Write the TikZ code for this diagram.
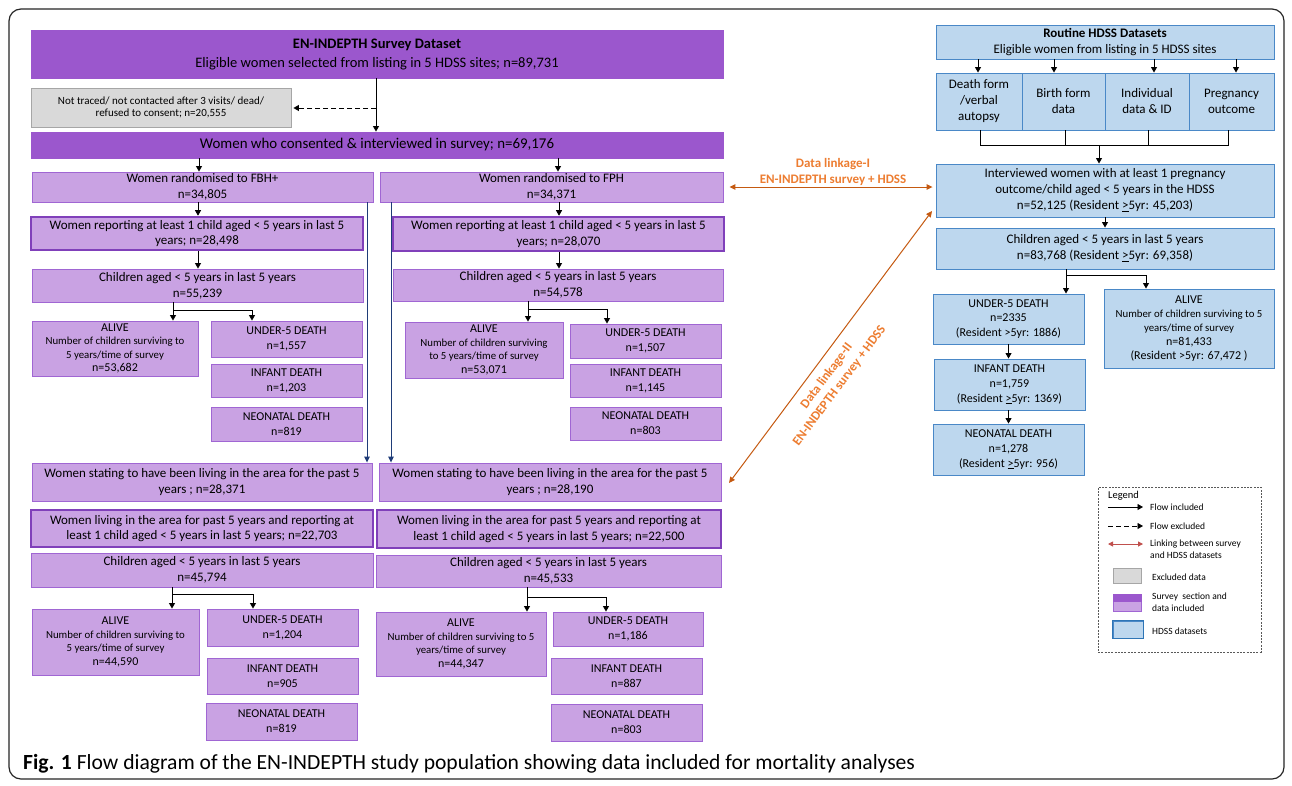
\documentclass[tikz,border=0pt]{standalone}
\usepackage{fontspec}
\setmainfont{Carlito}
\usetikzlibrary{arrows.meta,calc}
\definecolor{dpur}{HTML}{9B57CD}
\definecolor{dpurb}{HTML}{8040BA}
\definecolor{lpur}{HTML}{C9A2E3}
\definecolor{lpurb}{HTML}{A066D3}
\definecolor{gfill}{HTML}{D9D9D9}
\definecolor{gbord}{HTML}{A6A6A6}
\definecolor{bfill}{HTML}{BDD7EE}
\definecolor{bbord}{HTML}{4A88C7}
\definecolor{bbordk}{HTML}{2E75B6}
\definecolor{navy}{HTML}{1F3C78}
\definecolor{otext}{HTML}{ED7D31}
\definecolor{oline}{HTML}{C55A11}
\definecolor{lred}{HTML}{C0504D}
\newcommand\fT{\fontsize{14.5}{19}\selectfont}
\newcommand\fC{\fontsize{14.9}{18}\selectfont}
\newcommand\fM{\fontsize{13}{15.7}\selectfont}
\newcommand\fH{\fontsize{13}{16}\selectfont}
\newcommand\fS{\fontsize{10.8}{13.4}\selectfont}
\newcommand\fD{\fontsize{12}{15}\selectfont}
\newcommand\fX{\fontsize{11}{12.5}\selectfont}
\newcommand\fL{\fontsize{9.5}{12}\selectfont}
\newcommand\mybox[7]{\node[#1, minimum width={(#4)-(#2)}, minimum height={(#5)-(#3)}] (#6) at ({((#2)+(#4))/2},{((#3)+(#5))/2}) {#7};}
\tikzset{
  box/.style={draw, inner sep=0pt, align=center, line width=0.9pt, font=\fM},
  dp/.style={box, fill=dpur, draw=dpur, font=\fT},
  lp/.style={box, fill=lpur, draw=lpurb},
  tk/.style={box, fill=lpur, draw=dpurb, line width=2.6pt},
  gy/.style={box, fill=gfill, draw=gbord, font=\fX},
  bl/.style={box, fill=bfill, draw=bbord, font=\fH},
  hd/.style={bl, font=\fontsize{12}{14.7}\selectfont},
  ha/.style={bl, font=\fontsize{12}{14}\selectfont},
  al/.style={lp, font=\fontsize{12}{13.4}\selectfont},
  dt/.style={lp, font=\fD},
  arr/.style={-{Triangle[length=5.5pt,width=6pt]}, line width=0.9pt, black},
  ln/.style={line width=0.9pt, black},
  narr/.style={-{Triangle[length=6pt,width=5.5pt]}, line width=1pt, navy},
  link/.style={{Triangle[length=6pt,width=5.5pt]}-{Triangle[length=6pt,width=5.5pt]}, line width=1pt, oline},
  redlink/.style={{Triangle[length=5pt,width=5pt]}-{Triangle[length=5pt,width=5pt]}, line width=1pt, lred},
  ltxt/.style={text=otext, font=\fontsize{13}{16}\selectfont\bfseries, align=center, inner sep=0pt},
  lg/.style={font=\fL, anchor=west, align=left, inner sep=0pt},
  lgbox/.style={draw=black!65, dash pattern=on 2pt off 1.3pt, line width=0.8pt, inner sep=0pt},
}
\begin{document}
\begin{tikzpicture}[x=1pt,y=-1pt]
\useasboundingbox (0,0) rectangle (1292,785);
\fill[white] (0,0) rectangle (1292,785);
\draw[line width=1.2pt, rounded corners=12pt, black!85] (9,9) rectangle (1284,779);

% ---------------- survey column ----------------
\mybox{dp}{31}{30}{723}{78}{top}{{\bfseries EN-INDEPTH Survey Dataset}\\Eligible women selected from listing in 5 HDSS sites; n=89,731}
\mybox{gy}{31}{88}{291}{127}{excl}{Not traced/ not contacted after 3 visits/ dead/\\refused to consent; n=20,555}
\mybox{dp}{31}{132}{723}{158}{cons}{\fC Women who consented \& interviewed in survey; n=69,176}
\mybox{lp}{32}{172}{373}{202}{fbh}{Women randomised to FBH+\\n=34,805}
\mybox{lp}{380}{172}{723}{202}{fph}{Women randomised to FPH\\n=34,371}
\mybox{tk}{31}{217}{363}{250}{repa}{Women reporting at least 1 child aged < 5 years in last 5\\years; n=28,498}
\mybox{tk}{393}{217}{724}{251}{repb}{Women reporting at least 1 child aged < 5 years in last 5\\years; n=28,070}
\mybox{lp}{32}{269}{363}{302}{cha}{Children aged < 5 years in last 5 years\\n=55,239}
\mybox{lp}{393}{269}{723}{301}{chb}{Children aged < 5 years in last 5 years\\n=54,578}
\mybox{al}{32}{321}{198}{376}{ala}{ALIVE\\{\fS Number of children surviving to}\\{\fS 5 years/time of survey}\\n=53,682}
\mybox{dt}{211}{321}{362}{357}{ua}{UNDER-5 DEATH\\n=1,557}
\mybox{dt}{211}{364}{362}{397}{ia}{INFANT DEATH\\n=1,203}
\mybox{dt}{211}{407}{362}{441}{na}{NEONATAL DEATH\\n=819}
\mybox{al}{405}{322}{563}{378}{alb}{ALIVE\\{\fS Number of children surviving}\\{\fS to 5 years/time of survey}\\n=53,071}
\mybox{dt}{570}{324}{721}{358}{ub}{UNDER-5 DEATH\\n=1,507}
\mybox{dt}{570}{364}{721}{397}{ib}{INFANT DEATH\\n=1,145}
\mybox{dt}{570}{407}{721}{440}{nb}{NEONATAL DEATH\\n=803}
\mybox{lp}{32}{463}{372}{501}{sta}{Women stating to have been living in the area for the past 5\\years ; n=28,371}
\mybox{lp}{379}{463}{721}{501}{stb}{Women stating to have been living in the area for the past 5\\years ; n=28,190}
\mybox{tk}{31}{510}{373}{547}{lva}{Women living in the area for past 5 years and reporting at\\least 1 child aged < 5 years in last 5 years; n=22,703}
\mybox{tk}{377}{510}{721}{548}{lvb}{Women living in the area for past 5 years and reporting at\\least 1 child aged < 5 years in last 5 years; n=22,500}
\mybox{lp}{31}{553}{373}{587}{cca}{Children aged < 5 years in last 5 years\\n=45,794}
\mybox{lp}{376}{555}{721}{587}{ccb}{Children aged < 5 years in last 5 years\\n=45,533}
\mybox{al}{32}{609}{199}{675}{alc}{ALIVE\\{\fS Number of children surviving to}\\{\fS 5 years/time of survey}\\n=44,590}
\mybox{dt}{207}{609}{358}{646}{uc}{UNDER-5 DEATH\\n=1,204}
\mybox{dt}{207}{658}{358}{694}{ic}{INFANT DEATH\\n=905}
\mybox{dt}{206}{703}{357}{740}{nc}{NEONATAL DEATH\\n=819}
\mybox{al}{376}{612}{546}{676}{ald}{ALIVE\\{\fS Number of children surviving to 5}\\{\fS years/time of survey}\\n=44,347}
\mybox{dt}{553}{612}{703}{646}{ud}{UNDER-5 DEATH\\n=1,186}
\mybox{dt}{551}{658}{702}{694}{id}{INFANT DEATH\\n=887}
\mybox{dt}{551}{704}{702}{741}{nd}{NEONATAL DEATH\\n=803}

% ---------------- HDSS column ----------------
\mybox{bl}{936}{25}{1274}{59}{rout}{{\bfseries Routine HDSS Datasets}\\Eligible women from listing in 5 HDSS sites}
\mybox{bl}{936}{73}{1022}{130}{da}{Death form\\/verbal\\autopsy}
\mybox{bl}{1022}{73}{1105}{130}{db}{Birth form\\data}
\mybox{bl}{1105}{73}{1189}{130}{dc}{Individual\\data \& ID}
\mybox{bl}{1189}{73}{1274}{130}{dd}{Pregnancy\\outcome}
\mybox{bl}{936}{164}{1274}{217}{intv}{Interviewed women with at least 1 pregnancy\\outcome/child aged < 5 years in the HDSS\\n=52,125 (Resident \underline{>}5yr: 45,203)}
\mybox{bl}{936}{228}{1274}{269}{chh}{Children aged < 5 years in last 5 years\\n=83,768 (Resident \underline{>}5yr: 69,358)}
\mybox{hd}{933}{294}{1084}{344}{uh}{UNDER-5 DEATH\\n=2335\\(Resident >5yr: 1886)}
\mybox{hd}{934}{359}{1085}{410}{ih}{INFANT DEATH\\n=1,759\\(Resident \underline{>}5yr: 1369)}
\mybox{hd}{933}{424}{1084}{475}{nh}{NEONATAL DEATH\\n=1,278\\(Resident \underline{>}5yr: 956)}
\mybox{ha}{1104}{289}{1274}{368}{ah}{ALIVE\\{\fS Number of children surviving to 5}\\{\fS years/time of survey}\\n=81,433\\(Resident >5yr: 67,472 )}

% ---------------- guide coordinates ----------------
\coordinate (gA) at (376,0);
\coordinate (dsh) at (376,108);
\coordinate (gB) at (199,0);
\coordinate (gC) at (558,0);
\coordinate (gD) at (198,0);
\coordinate (gE) at (559,0);
\coordinate (ba) at (173,310);  \coordinate (ba2) at (252,310);
\coordinate (bb) at (528,309);  \coordinate (bb2) at (607,309);
\coordinate (bc) at (172,594);  \coordinate (bc2) at (253,594);
\coordinate (bd) at (527,597);  \coordinate (bd2) at (606,597);
\coordinate (nv1) at (367,0);
\coordinate (nv2) at (391,0);
\coordinate (r1) at (978,0); \coordinate (r2) at (1054,0);
\coordinate (r3) at (1154,0); \coordinate (r4) at (1236,0);
\coordinate (j1) at (980,145); \coordinate (j2) at (1065,145);
\coordinate (j3) at (1148,145); \coordinate (j4) at (1228,145);
\coordinate (j5) at (1099,145);
\coordinate (h1) at (1066,275); \coordinate (h2) at (1146,275);
\coordinate (d2a) at (729,483); \coordinate (d2b) at (932,211);

% ---------------- survey connectors ----------------
\draw[arr] (top.south -| gA) -- (cons.north -| gA);
\draw[arr, dash pattern=on 5pt off 3pt] (dsh) -- ([xshift=2pt]excl.east |- dsh);
\draw[arr] (cons.south -| gB) -- (fbh.north -| gB);
\draw[arr] (cons.south -| gC) -- (fph.north -| gC);
\draw[arr] (fbh.south -| gD) -- (repa.north -| gD);
\draw[arr] (repa.south -| gD) -- (cha.north -| gD);
\draw[arr] (fph.south -| gE) -- (repb.north -| gE);
\draw[arr] (repb.south -| gE) -- (chb.north -| gE);
\draw[arr] (cha.south -| ba) -- (ala.north -| ba);
\draw[arr] (ba) -- (ba2) -- (ua.north -| ba2);
\draw[arr] (chb.south -| bb) -- (alb.north -| bb);
\draw[arr] (bb) -- (bb2) -- (ub.north -| bb2);
\draw[arr] (cca.south -| bc) -- (alc.north -| bc);
\draw[arr] (bc) -- (bc2) -- (uc.north -| bc2);
\draw[arr] (ccb.south -| bd) -- (ald.north -| bd);
\draw[arr] (bd) -- (bd2) -- (ud.north -| bd2);
\draw[narr] (fbh.south -| nv1) -- (sta.north -| nv1);
\draw[narr] (fph.south -| nv2) -- (stb.north -| nv2);

% ---------------- HDSS connectors ----------------
\draw[arr] (rout.south -| r1) -- (da.north -| r1);
\draw[arr] (rout.south -| r2) -- (db.north -| r2);
\draw[arr] (rout.south -| r3) -- (dc.north -| r3);
\draw[arr] (rout.south -| r4) -- (dd.north -| r4);
\draw[ln] (da.south -| j1) -- (j1) -- (j4) -- (dd.south -| j4);
\draw[ln] (db.south -| j2) -- (j2);
\draw[ln] (dc.south -| j3) -- (j3);
\draw[arr] (j5) -- (intv.north -| j5);
\draw[arr] (intv.south) -- (chh.north);
\draw[arr] (chh.south -| h1) -- (uh.north -| h1);
\draw[arr] (h1) -- (h2) -- (ah.north -| h2);
\draw[arr] (uh.south) -- (ih.north -| uh.south);
\draw[arr] (ih.south -| uh.south) -- (nh.north -| uh.south);

% ---------------- linkages ----------------
\draw[link, shorten <=6pt, shorten >=3pt] (fph.east) -- (intv.west |- fph.east);
\node[ltxt] (l1) at (833,172) {Data linkage-I\\EN-INDEPTH survey + HDSS};
\draw[link] (d2a) -- (d2b);
\node[ltxt, rotate=53.3] (l2) at (833,381) {Data linkage-II\\EN-INDEPTH survey + HDSS};

% ---------------- legend ----------------
\mybox{lgbox}{1098}{487}{1261}{652}{leg}{}
\node[lg, font=\fontsize{10.5}{12}\selectfont] (lgt) at (1108,496) {Legend};
\node[lg] (lt1) at (1150,507) {Flow included};
\draw[arr] ([xshift=-42pt]lt1.west) -- ([xshift=-7pt]lt1.west);
\node[lg] (lt2) at (1150,526) {Flow excluded};
\draw[arr, dash pattern=on 5pt off 3pt] ([xshift=-42pt]lt2.west) -- ([xshift=-7pt]lt2.west);
\node[lg] (lt3) at (1150,549) {Linking between survey\\and HDSS datasets};
\draw[redlink] ([xshift=-42pt,yshift=5pt]lt3.west) -- ([xshift=-7pt,yshift=5pt]lt3.west);
\mybox{gy}{1113}{568}{1141}{583}{lgx}{}
\node[lg] (lt4) at (1152,577) {Excluded data};
\mybox{lp}{1113}{601}{1141}{611}{lgpb}{}
\mybox{dp}{1113}{594}{1141}{601}{lgpa}{}
\node[lg] (lt5) at (1152,602) {Survey\ \ section and\\data included};
\mybox{bl}{1113}{621}{1143}{638}{lgb}{}
\draw[bbordk, line width=1.3pt] (lgb.north west) rectangle (lgb.south east);
\node[lg] (lt6) at (1152,631) {HDSS datasets};

% ---------------- caption ----------------
\node[anchor=base west, inner sep=0pt, font=\fontsize{21.6}{26}\selectfont] (cap) at (23,769) {\textbf{Fig. 1} Flow diagram of the EN-INDEPTH study population showing data included for mortality analyses};
\end{tikzpicture}
\end{document}
